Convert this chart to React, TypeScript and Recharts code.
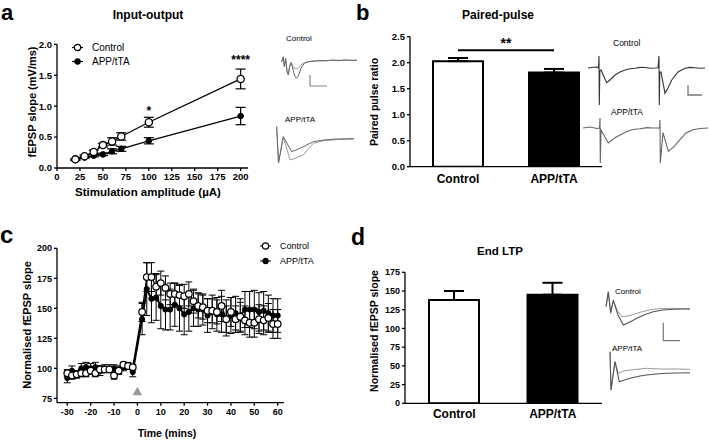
import React from 'react';
import {
  LineChart, Line, XAxis, YAxis, ErrorBar, BarChart, Bar, Cell, ReferenceDot, ReferenceLine,
} from 'recharts';

const FONT = '"Liberation Sans", Arial, Helvetica, sans-serif';

// ---------- Panel a: Input-output ----------
const ioAmplitudes = [20, 30, 40, 50, 60, 70, 100, 200];
const ioControl = [0.14, 0.19, 0.26, 0.37, 0.43, 0.51, 0.74, 1.44];
const ioControlErr = [0.01, 0.02, 0.03, 0.03, 0.06, 0.06, 0.08, 0.16];
const ioApp = [0.13, 0.17, 0.2, 0.22, 0.27, 0.31, 0.44, 0.84];
const ioAppErr = [0.01, 0.01, 0.02, 0.02, 0.04, 0.04, 0.05, 0.14];
const ioTicksX = [0, 25, 50, 75, 100, 125, 150, 175, 200];
const ioTicksY = [0, 0.5, 1, 1.5, 2];

// ---------- Panel b: Paired-pulse ----------
const ppGroups = ['Control', 'APP/tTA'];
const ppRatio = [2.03, 1.81];
const ppErr = [0.06, 0.07];
const ppTicksY = [0, 0.5, 1, 1.5, 2, 2.5];
const ppSigLevel = 2.24;

// ---------- Panel c: LTP time course ----------
const ltpTimes = [-30, -28, -26, -24, -22, -20, -18, -16, -14, -12, -10, -8, -6, -4, -2,
  2, 4, 6, 8, 10, 12, 14, 16, 18, 20, 22, 24, 26, 28, 30, 32, 34, 36, 38, 40, 42, 44, 46, 48, 50, 52, 54, 56, 58, 60];
const ltpControl = [96, 94, 95, 96, 96, 98, 96, 99, 99, 99, 94, 98, 103, 102, 101,
  147, 176, 176, 168, 171, 167, 162, 162, 161, 160, 162, 156, 152, 151, 148, 148, 147, 152, 141, 147, 141, 143, 140, 138, 138, 141, 140, 142, 137, 137];
const ltpControlErr = [3, 3, 3, 3, 3, 3, 3, 3, 2, 2, 3, 3, 2, 2, 2,
  8, 12, 12, 11, 10, 10, 9, 9, 9, 10, 10, 10, 10, 10, 10, 10, 10, 13, 11, 12, 11, 12, 12, 12, 12, 12, 12, 12, 12, 12];
const ltpApp = [92, 98, 95, 100, 101, 100, 101, 98, 100, 100, 100, 99, 101, 102, 97,
  141, 166, 158, 159, 152, 149, 149, 153, 150, 145, 147, 150, 149, 149, 144, 147, 145, 145, 142, 144, 146, 144, 149, 149, 149, 147, 148, 146, 144, 144];
const ltpAppErr = [4, 4, 3, 4, 4, 4, 4, 4, 3, 3, 3, 3, 3, 3, 4,
  13, 22, 20, 19, 19, 17, 17, 18, 19, 17, 16, 15, 14, 13, 14, 14, 14, 15, 15, 15, 14, 14, 15, 15, 16, 16, 16, 15, 14, 14];
const ltpTicksX = [-30, -20, -10, 0, 10, 20, 30, 40, 50, 60];
const ltpTicksY = [75, 100, 125, 150, 175, 200];
const tetanusTime = 0;
const tetanusMarker = 81;

// ---------- Panel d: End LTP ----------
const endGroups = ['Control', 'APP/tTA'];
const endValues = [138, 145];
const endErr = [12, 16];
const endTicksY = [0, 25, 50, 75, 100, 125, 150, 175];

// ---------- Example traces (time, voltage) ----------
type Pt = { t: number; v: number };
const mk = (a: number[][]): Pt[] => a.map(([t, v]) => ({ t, v }));

const ioCtrlTraceDark = mk([[3.7, -0.7], [5.3, 4.3], [6.3, -5.7], [7.7, 2.7], [9, -10.7], [10.3, -14], [11.7, -5.7], [13, -1.7], [14.3, -5.7], [16.3, -14], [18.3, -17.3], [20.3, -15], [23, -7.3], [26.3, -2.3], [30.3, -0.7], [37, 0], [45, 0.5], [50, 0.3], [55, 1], [62, 0.5], [68, 1], [74, 0.7], [79, 0.7]]);
const ioCtrlTraceLight = mk([[3.7, -0.7], [5.3, 3.7], [6.3, -5], [7.7, 1.7], [9, -9.7], [10.3, -12.3], [11.7, -5], [13, -1.7], [14.3, -4], [16.3, -7.3], [18.3, -8], [20.3, -6.7], [23, -4], [26.3, -1.7], [30.3, -0.7], [37, 0.3], [45, 0], [52, 0.7], [60, 0.3], [66, 1], [72, 0.5], [79, 0.7]]);
const ioCtrlScale = mk([[32, -14], [32, -25], [49, -25]]);
const ioAppTraceDark = mk([[2.7, 12.3], [4.5, -24], [9.3, 2.3], [17.7, -12.7], [22, -11], [29.3, -7.7], [39.3, -2.7], [50, -1], [62.7, 0], [70, -0.3], [76, 0.5], [80, 0]]);
const ioAppTraceLight = mk([[2.7, 12.3], [4.5, -24], [9.3, 2.3], [16, -21], [21, -19.3], [29.3, -16], [39.3, -4.3], [50, -1.5], [62.7, -0.7], [70, 0.5], [76, -0.3], [80, 0.3]]);

const ppCtrlTrace = mk([[8, 0], [13, 0.8], [17, 1], [18.5, 0], [19, 12], [19.3, -37], [19.8, -3], [21, -2], [26.7, -14.7], [30, -12], [35, -7], [40, -4], [45, -2], [50, -0.8], [55, -0.3], [60, 0.6], [65, 0.5], [70, -0.2], [75, 0], [78, 0.3], [79, 12], [79.3, -37], [79.8, -4], [81, -4], [85, -25.3], [88, -20], [91.7, -12], [98.3, -3.7], [105, -0.3], [110, 0.6], [115, 0.3], [120, -0.3], [125, 0]]);
const ppCtrlScale = mk([[108, -17], [108, -27], [122, -27]]);
const ppAppTrace = mk([[3, 0], [10, 1], [17, -0.5], [19.5, 0], [20, 10], [20.3, -35], [21, -2], [28.3, -15], [35, -9.7], [46.7, -3.4], [53, -1.5], [60, -0.7], [67, 0.4], [73, 0], [79.5, 0], [80, 8], [80.3, -35], [83, -4.7], [88.3, -23.4], [94, -18.7], [100, -11.7], [106, -5], [113, -1.7], [120, -0.5], [128, 0]]);

const endCtrlTraceDark = mk([[6, 2.3], [8.3, 17.3], [10.7, -4.3], [13.3, 9], [18, -6], [23.3, -16], [30, -13], [36.7, -9.3], [45, -5.5], [53.3, -2.7], [63, -1], [73.3, -0.3], [82, 0], [90, 0]]);
const endCtrlTraceLight = mk([[6, 2.3], [8.3, 16.3], [10.7, -3], [13.3, 8], [17, -1], [21.7, -7.7], [28, -7], [36.7, -4.3], [45, -2], [53.3, -0.3], [63, 0.5], [73.3, 0.7], [82, 0.3], [90, 0]]);
const endCtrlScale = mk([[63.3, -13.7], [63.3, -31.7], [80, -31.7]]);
const endAppTraceDark = mk([[10, 19.3], [11, -19], [15, 9.3], [19.3, -10.7], [30, -7.3], [40, -5], [46.7, -4], [56, -3], [66.7, -2.3], [78, -2], [90, -1.7]]);
const endAppTraceLight = mk([[10, 19.3], [11, -19], [15, 9.3], [18.3, -2.3], [24, 0], [30, 1], [46.7, 2.7], [60, 2], [75, 2], [90, 1.7]]);

// ---------- derived tables ----------
const ioData = ioAmplitudes.map((x, i) => ({
  x, ctrl: ioControl[i], ctrlErr: ioControlErr[i], app: ioApp[i], appErr: ioAppErr[i],
}));
const ppData = ppGroups.map((g, i) => ({ g, v: ppRatio[i], err: [0, ppErr[i]] }));
const ltpData = ltpTimes.map((x, i) => ({
  x, ctrl: ltpControl[i], ctrlErr: ltpControlErr[i], app: ltpApp[i], appErr: ltpAppErr[i],
}));
const endData = endGroups.map((g, i) => ({ g, v: endValues[i], err: [0, endErr[i]] }));

const axisStyle = { stroke: '#000', strokeWidth: 1.3 };

function Txt({ x, y, size, bold = false, children, rotate = false, anchor = 'middle' }: any) {
  const tx = anchor === 'middle' ? '-50%' : anchor === 'start' ? '0' : '-100%';
  return (
    <div
      style={{
        position: 'absolute', left: x, top: y, fontSize: size, fontWeight: bold ? 'bold' : 'normal',
        whiteSpace: 'nowrap', lineHeight: 1, color: '#000',
        transform: `translate(${tx}, -50%)${rotate ? ' rotate(-90deg)' : ''}`,
      }}
    >
      {children}
    </div>
  );
}

function PanelLetter({ x, top, size, children }: any) {
  return (
    <div style={{ position: 'absolute', left: x, top, fontSize: size, fontWeight: 'bold', lineHeight: 0.7, color: '#000' }}>
      {children}
    </div>
  );
}

function LegendItem({ x, y, filled, label, size }: any) {
  return (
    <div style={{ position: 'absolute', left: x, top: y, transform: 'translateY(-50%)', display: 'flex', alignItems: 'center', fontSize: size, lineHeight: 1 }}>
      <svg width={11} height={9} style={{ display: 'block' }}>
        <line x1={0} y1={4.5} x2={11} y2={4.5} stroke="#000" strokeWidth={1.2} />
        <circle cx={5.5} cy={4.5} r={filled ? 2.6 : 3.2} fill={filled ? '#000' : '#fff'} stroke="#000" strokeWidth={1.2} />
      </svg>
      <span style={{ marginLeft: 9 }}>{label}</span>
    </div>
  );
}

function Inset({ left, top, width, height, xDomain, yDomain, traces }: any) {
  return (
    <div style={{ position: 'absolute', left, top }}>
      <LineChart width={width} height={height} margin={{ top: 0, right: 0, bottom: 0, left: 0 }}>
        <XAxis type="number" dataKey="t" domain={xDomain} hide allowDataOverflow />
        <YAxis type="number" dataKey="v" domain={yDomain} hide allowDataOverflow />
        {traces.map((tr: any, i: number) => (
          <Line key={i} data={tr.data} dataKey="v" type="linear" stroke={tr.color} strokeWidth={tr.w}
            dot={false} activeDot={false} isAnimationActive={false} />
        ))}
      </LineChart>
    </div>
  );
}

const Triangle = (p: any) => (
  <polygon points={`${p.cx},${p.cy - 4.5} ${p.cx - 4.7},${p.cy + 4} ${p.cx + 4.7},${p.cy + 4}`} fill="#999" />
);

export default function App() {
  const tickA = { fontSize: 9.5, fontWeight: 'bold', fill: '#000' };
  const tickC = { fontSize: 9, fontWeight: 'bold', fill: '#000' };
  const catTick = { fontSize: 12, fontWeight: 'bold', fill: '#000' };
  return (
    <div style={{ position: 'absolute', left: 0, top: 0, width: 709, height: 441, background: '#fff', fontFamily: FONT, overflow: 'hidden' }}>
      {/* Panel letters */}
      <PanelLetter x={1} top={5} size={22}>a</PanelLetter>
      <PanelLetter x={356} top={5} size={22}>b</PanelLetter>
      <PanelLetter x={0} top={227} size={24}>c</PanelLetter>
      <PanelLetter x={351} top={229} size={23}>d</PanelLetter>

      {/* ---------- Panel a ---------- */}
      <Txt x={148} y={15} size={12} bold>Input-output</Txt>
      <div style={{ position: 'absolute', left: 0, top: 0 }}>
        <LineChart width={253} height={193} data={ioData} margin={{ top: 44.3, right: 5, bottom: 0, left: 0 }}>
          <XAxis type="number" dataKey="x" domain={[0, 208]} ticks={ioTicksX} interval={0} allowDataOverflow
            tick={tickA} tickSize={3} tickMargin={2} height={25} axisLine={axisStyle} tickLine={axisStyle} />
          <YAxis type="number" domain={[0, 2]} ticks={ioTicksY} interval={0} allowDataOverflow
            tickFormatter={(v: number) => v.toFixed(1)} tick={tickA} tickSize={3} tickMargin={2} width={57}
            axisLine={axisStyle} tickLine={axisStyle} />
          <Line dataKey="app" stroke="#000" strokeWidth={1.3} isAnimationActive={false}
            dot={{ r: 2.8, fill: '#000', stroke: '#000', strokeWidth: 1 }} activeDot={false}>
            <ErrorBar dataKey="appErr" width={5} stroke="#000" strokeWidth={1.2} />
          </Line>
          <Line dataKey="ctrl" stroke="#000" strokeWidth={1.3} isAnimationActive={false}
            dot={{ r: 3.6, fill: '#fff', stroke: '#000', strokeWidth: 1.3 }} activeDot={false}>
            <ErrorBar dataKey="ctrlErr" width={5} stroke="#000" strokeWidth={1.2} />
          </Line>
          <ReferenceDot x={100} y={0.93} r={0} fill="none" stroke="none"
            label={{ value: '*', position: 'center', fontSize: 12, fontWeight: 'bold', fill: '#000' }} />
          <ReferenceDot x={200} y={1.75} r={0} fill="none" stroke="none"
            label={{ value: '****', position: 'center', fontSize: 12, fontWeight: 'bold', fill: '#000' }} />
        </LineChart>
      </div>
      <Txt x={32} y={102} size={11} bold rotate>fEPSP slope (mV/ms)</Txt>
      <Txt x={148} y={193} size={11.5} bold>Stimulation amplitude (µA)</Txt>
      <LegendItem x={72} y={47.7} filled={false} label="Control" size={10} />
      <LegendItem x={72} y={61.7} filled label="APP/tTA" size={10} />

      <Txt x={286} y={39} size={8} anchor="start">Control</Txt>
      <Inset left={278} top={48} width={82} height={42} xDomain={[0, 82]} yDomain={[-29, 13]}
        traces={[{ data: ioCtrlTraceLight, color: '#9a9a9a', w: 1 }, { data: ioCtrlTraceDark, color: '#666', w: 1 }, { data: ioCtrlScale, color: '#888', w: 1.2 }]} />
      <Txt x={285} y={120} size={8} anchor="start">APP/tTA</Txt>
      <Inset left={274} top={122} width={86} height={45} xDomain={[0, 86]} yDomain={[-28, 17]}
        traces={[{ data: ioAppTraceLight, color: '#9a9a9a', w: 1 }, { data: ioAppTraceDark, color: '#666', w: 1 }]} />

      {/* ---------- Panel b ---------- */}
      <Txt x={498} y={15} size={12} bold>Paired-pulse</Txt>
      <div style={{ position: 'absolute', left: 360, top: 0 }}>
        <BarChart width={247} height={192} data={ppData} margin={{ top: 36.7, right: 5, bottom: 0, left: 0 }}>
          <XAxis type="category" dataKey="g" tick={catTick} tickLine={false} tickSize={0} tickMargin={8} height={25.3}
            axisLine={axisStyle} interval={0} />
          <YAxis type="number" domain={[0, 2.5]} ticks={ppTicksY} interval={0} allowDataOverflow
            tickFormatter={(v: number) => v.toFixed(1)} tick={tickA} tickSize={3} tickMargin={2} width={50}
            axisLine={axisStyle} tickLine={axisStyle} />
          <Bar dataKey="v" barSize={50} isAnimationActive={false} stroke="#000" strokeWidth={2}>
            {ppData.map((d, i) => <Cell key={i} fill={i === 0 ? '#fff' : '#000'} />)}
            <ErrorBar dataKey="err" width={10} stroke="#000" strokeWidth={2} />
          </Bar>
          <ReferenceLine segment={[{ x: ppGroups[0], y: ppSigLevel }, { x: ppGroups[1], y: ppSigLevel }]}
            stroke="#000" strokeWidth={2}
            label={{ value: '**', position: 'top', fontSize: 14, fontWeight: 'bold', fill: '#000', offset: 2 }} />
        </BarChart>
      </div>
      <Txt x={374} y={102} size={10.5} bold rotate>Paired pulse ratio</Txt>
      <Txt x={613} y={43} size={8.5} anchor="start">Control</Txt>
      <Inset left={580} top={52} width={129} height={58} xDomain={[0, 129]} yDomain={[-42, 16]}
        traces={[{ data: ppCtrlTrace, color: '#333', w: 1.1 }, { data: ppCtrlScale, color: '#777', w: 1.3 }]} />
      <Txt x={611} y={112} size={8.5} anchor="start">APP/tTA</Txt>
      <Inset left={580} top={112} width={129} height={56} xDomain={[0, 129]} yDomain={[-40, 16]}
        traces={[{ data: ppAppTrace, color: '#666', w: 1.1 }]} />

      {/* ---------- Panel c ---------- */}
      <div style={{ position: 'absolute', left: 6.7, top: 240 }}>
        <LineChart width={282} height={188} data={ltpData} margin={{ top: 8.3, right: 5, bottom: 0, left: 0 }}>
          <XAxis type="number" dataKey="x" domain={[-34.4, 62.7]} ticks={ltpTicksX} interval={0} allowDataOverflow
            tick={tickC} tickSize={3} tickMargin={3} height={25.3} axisLine={axisStyle} tickLine={axisStyle} />
          <YAxis type="number" domain={[71.4, 200]} ticks={ltpTicksY} interval={0} allowDataOverflow
            tick={tickC} tickSize={3} tickMargin={2} width={50} axisLine={axisStyle} tickLine={axisStyle} />
          <Line dataKey="app" stroke="#000" strokeWidth={2} isAnimationActive={false}
            dot={{ r: 2.6, fill: '#000', stroke: '#000', strokeWidth: 1 }} activeDot={false}>
            <ErrorBar dataKey="appErr" width={3.5} stroke="#000" strokeWidth={1} />
          </Line>
          <Line dataKey="ctrl" stroke="#000" strokeWidth={1.3} isAnimationActive={false}
            dot={{ r: 3.3, fill: '#fff', stroke: '#000', strokeWidth: 1.2 }} activeDot={false}>
            <ErrorBar dataKey="ctrlErr" width={3.5} stroke="#000" strokeWidth={1} />
          </Line>
          <ReferenceDot x={tetanusTime} y={tetanusMarker} shape={Triangle} />
        </LineChart>
      </div>
      <Txt x={27} y={325} size={11} bold rotate>Normalised fEPSP slope</Txt>
      <Txt x={167} y={433} size={10.5} bold>Time (mins)</Txt>
      <LegendItem x={260} y={246} filled={false} label="Control" size={9} />
      <LegendItem x={260} y={261} filled label="APP/tTA" size={9} />

      {/* ---------- Panel d ---------- */}
      <Txt x={500} y={252} size={11.5} bold>End LTP</Txt>
      <div style={{ position: 'absolute', left: 355, top: 262 }}>
        <BarChart width={252} height={167} data={endData} margin={{ top: 10.3, right: 5, bottom: 0, left: 0 }}>
          <XAxis type="category" dataKey="g" tick={catTick} tickLine={false} tickSize={0} tickMargin={6} height={25.7}
            axisLine={axisStyle} interval={0} />
          <YAxis type="number" domain={[0, 175]} ticks={endTicksY} interval={0} allowDataOverflow
            tick={tickC} tickSize={3} tickMargin={2} width={50} axisLine={axisStyle} tickLine={axisStyle} />
          <Bar dataKey="v" barSize={50} isAnimationActive={false} stroke="#000" strokeWidth={2}>
            {endData.map((d, i) => <Cell key={i} fill={i === 0 ? '#fff' : '#000'} />)}
            <ErrorBar dataKey="err" width={10} stroke="#000" strokeWidth={2} />
          </Bar>
        </BarChart>
      </div>
      <Txt x={374} y={331} size={10.5} bold rotate>Normalised fEPSP slope</Txt>
      <Txt x={615} y={292} size={8} anchor="start">Control</Txt>
      <Inset left={600} top={288} width={95} height={57} xDomain={[0, 95]} yDomain={[-36, 21]}
        traces={[{ data: endCtrlTraceLight, color: '#9a9a9a', w: 1 }, { data: endCtrlTraceDark, color: '#555', w: 1.1 }, { data: endCtrlScale, color: '#777', w: 1.2 }]} />
      <Txt x={612} y={349} size={8} anchor="start">APP/tTA</Txt>
      <Inset left={600} top={349} width={95} height={44} xDomain={[0, 95]} yDomain={[-22, 22]}
        traces={[{ data: endAppTraceLight, color: '#9a9a9a', w: 1 }, { data: endAppTraceDark, color: '#555', w: 1.1 }]} />
    </div>
  );
}
